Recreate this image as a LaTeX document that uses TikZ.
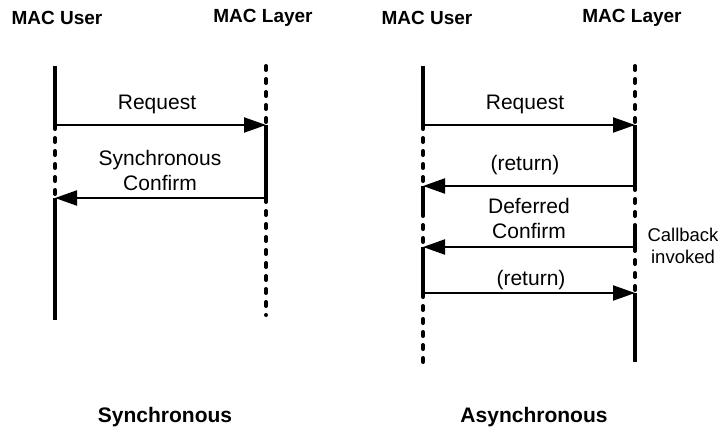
\documentclass[tikz,border=0pt]{standalone}
\usepackage{fontspec}
\setmainfont{Liberation Sans}
\usetikzlibrary{arrows.meta}

\begin{document}
\begin{tikzpicture}[x=1pt, y=-1pt,
  active/.style={line width=3.4pt},
  idle/.style={line width=4pt, line cap=round, dash pattern=on 4pt off 9pt},
  msg/.style={line width=2.2pt, -{Triangle[length=22pt, width=15pt]}},
  msgtext/.style={font=\fontsize{21}{25}\selectfont, align=center, inner sep=0pt},
  sidetext/.style={font=\fontsize{18.5}{22}\selectfont, align=center, inner sep=0pt},
  lifetitle/.style={font=\bfseries\fontsize{19}{21}\selectfont, inner sep=0pt},
  casetitle/.style={font=\bfseries\fontsize{21}{23}\selectfont, inner sep=0pt}]

  \useasboundingbox (0,0) rectangle (721,429);

  % Lifeline titles
  \node [lifetitle] (sync-user) at (57,18) {MAC User};
  \node [lifetitle] (sync-layer) at (263,18) {MAC Layer};
  \node [lifetitle] (async-user) at (427,18) {MAC User};
  \node [lifetitle] (async-layer) at (632,18) {MAC Layer};

  % Synchronous case: points on the two lifelines
  \coordinate (lu0) at (55,66);
  \coordinate (lu1) at (55,125);
  \coordinate (lu2) at (55,198);
  \coordinate (lu3) at (55,320);
  \coordinate (ll0) at (266,66);
  \coordinate (ll1) at (266,125);
  \coordinate (ll2) at (266,198);
  \coordinate (ll3) at (266,315);

  \foreach \a/\b/\s in {lu0/lu1/active, lu1/lu2/idle, lu2/lu3/active,
                        ll0/ll1/idle, ll1/ll2/active, ll2/ll3/idle}
    \draw [\s] (\a) -- (\b);

  \draw [msg] (lu1) -- (ll1);
  \draw [msg] (ll2) -- (lu2);

  \node [msgtext] (sync-request) at (157,104) {Request};
  \node [msgtext] (sync-confirm) at (160,170) {Synchronous\\Confirm};

  % Asynchronous case: points on the two lifelines
  \coordinate (ru0) at (423,66);
  \coordinate (ru1) at (423,125);
  \coordinate (ru2) at (423,186);
  \coordinate (ru3) at (423,212);
  \coordinate (ru4) at (423,247);
  \coordinate (ru5) at (423,293);
  \coordinate (ru6) at (423,362);
  \coordinate (rl0) at (635,66);
  \coordinate (rl1) at (635,125);
  \coordinate (rl2) at (635,186);
  \coordinate (rl3) at (635,228);
  \coordinate (rl4) at (635,247);
  \coordinate (rl5) at (635,293);
  \coordinate (rl6) at (635,362);

  \foreach \a/\b/\s in {ru0/ru1/active, ru1/ru2/idle, ru2/ru3/active,
                        ru3/ru4/idle, ru4/ru5/active, ru5/ru6/idle,
                        rl0/rl1/idle, rl1/rl2/active, rl2/rl3/idle,
                        rl3/rl4/active, rl4/rl5/idle, rl5/rl6/active}
    \draw [\s] (\a) -- (\b);

  \draw [msg] (ru1) -- (rl1);
  \draw [msg] (rl2) -- (ru2);
  \draw [msg] (rl4) -- (ru4);
  \draw [msg] (ru5) -- (rl5);

  \node [msgtext] (async-request) at (525,104) {Request};
  \node [msgtext] (async-return) at (525,165) {(return)};
  \node [msgtext] (async-confirm) at (529,218) {Deferred\\Confirm};
  \node [msgtext] (async-back) at (531,280) {(return)};
  \node [sidetext] (callback) at (683,246) {Callback\\invoked};

  % Case titles
  \node [casetitle] (sync-title) at (165,417) {Synchronous};
  \node [casetitle] (async-title) at (534,417) {Asynchronous};

\end{tikzpicture}
\end{document}
